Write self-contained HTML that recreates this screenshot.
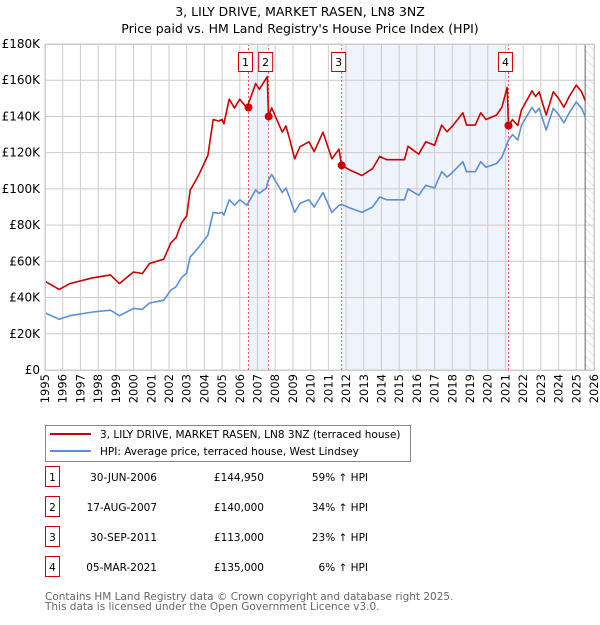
<!DOCTYPE html>
<html><head><meta charset="utf-8"><style>
body{margin:0;background:#fff;font-family:"Liberation Sans","DejaVu Sans",sans-serif;}
svg text{font-family:"DejaVu Sans","Liberation Sans",sans-serif;}
</style></head><body>
<svg id="chart" width="600" height="620" xmlns="http://www.w3.org/2000/svg">
<defs><pattern id="hatch" width="6" height="6" patternUnits="userSpaceOnUse" patternTransform="rotate(-45)"><line x1="0" y1="0" x2="0" y2="6" stroke="#ccc" stroke-width="1"/></pattern></defs>
<text x="300" y="16" text-anchor="middle" font-size="12.5" fill="#000">3, LILY DRIVE, MARKET RASEN, LN8 3NZ</text>
<text x="300" y="33" text-anchor="middle" font-size="12.5" fill="#000">Price paid vs. HM Land Registry's House Price Index (HPI)</text>
<g id="plot"></g>
<g>
<rect x="45.5" y="425.5" width="365" height="36" fill="#fff" stroke="#888"/>
<line x1="50" y1="434" x2="91" y2="434" stroke="#cc0000" stroke-width="2"/>
<text x="100" y="438" font-size="10.5">3, LILY DRIVE, MARKET RASEN, LN8 3NZ (terraced house)</text>
<line x1="50" y1="451" x2="91" y2="451" stroke="#5b8fd6" stroke-width="2"/>
<text x="100" y="455" font-size="10.5">HPI: Average price, terraced house, West Lindsey</text>
</g>
<g id="table" font-size="10.5"></g>
<text x="45" y="600" font-size="10.5" fill="#666">Contains HM Land Registry data © Crown copyright and database right 2025.</text>
<text x="45" y="610" font-size="10.5" fill="#666">This data is licensed under the Open Government Licence v3.0.</text>
</svg>
<script>
const hpiYears=[1995,1995.8,1996.4,1997.7,1998.7,1999.2,2000,2000.5,2000.9,2001.7,2002.1,2002.4,2002.7,2003,2003.2,2003.3,2003.7,2004.2,2004.5,2004.8,2005,2005.1,2005.4,2005.7,2006,2006.4,2006.9,2007.1,2007.5,2007.6,2007.8,2008.1,2008.4,2008.6,2008.8,2009.1,2009.4,2009.9,2010.2,2010.7,2011.2,2011.6,2011.75,2012.2,2012.9,2013.5,2013.9,2014.3,2015.3,2015.5,2016.1,2016.5,2017,2017.4,2017.7,2018,2018.6,2018.8,2019.3,2019.6,2019.9,2020.5,2020.8,2021.1,2021.17,2021.4,2021.7,2021.9,2022.5,2022.7,2022.9,2023.3,2023.7,2024,2024.3,2024.6,2025,2025.3,2025.5];
const hpiValues=[31.5,28,30,32,33,30,34,33.5,37,38.5,44,46,51,53.5,62.5,63.5,68,74.5,87,86.5,87,85.5,94,91,94,91,99.5,97.5,100.5,104.5,108,103,98,100.5,95.5,87,92,94,90,98,87,91,91.5,89.5,87,90,95.5,94,94,100,96.5,102,100.5,109.5,106.5,109,115,109.5,109.5,115,112,114,117.5,125,127,130,127,135,145,142,144.5,132.5,144.5,141,136.5,142,148,144.5,140];
const priceYears=[1995,1995.8,1996.4,1997.7,1998.7,1999.2,2000,2000.5,2000.9,2001.7,2002.1,2002.4,2002.7,2003,2003.2,2003.3,2003.7,2004.2,2004.5,2004.8,2005,2005.1,2005.4,2005.7,2006,2006.4,2006.9,2007.1,2007.55,2007.62,2007.8,2008.1,2008.4,2008.6,2008.8,2009.1,2009.4,2009.9,2010.2,2010.7,2011.2,2011.6,2011.75,2012.2,2012.9,2013.5,2013.9,2014.3,2015.3,2015.5,2016.1,2016.5,2017,2017.4,2017.7,2018,2018.6,2018.8,2019.3,2019.6,2019.9,2020.5,2020.8,2021.1,2021.17,2021.4,2021.7,2021.9,2022.5,2022.7,2022.9,2023.3,2023.7,2024,2024.3,2024.6,2025,2025.3,2025.5];
const priceValues=[49,44.5,47.7,50.9,52.5,47.7,54.1,53.3,58.8,61.2,70,73.1,81.1,85.1,99.4,101,108.1,118.5,138.3,137.5,138.3,136,149.5,144.7,149.5,144.7,158.2,155,162,140,144.7,138,131.3,134.7,128,116.6,123.3,126,120.6,131.3,116.6,121.9,113,110.5,107.4,111.2,117.9,116.1,116.1,123.5,119.2,126,124.1,135.2,131.5,134.6,142,135.2,135.2,142,138.3,140.8,145.1,156,135,138.2,135,143.5,154.1,151,153.6,140.8,153.6,149.9,145.1,151,157.3,153.6,148.8];
const saleLabels=["1","2","3","4"];
const saleYears=[2006.49,2007.63,2011.75,2021.17];
const saleValues=[144.95,140,113,135];
const saleDates=["30-JUN-2006","17-AUG-2007","30-SEP-2011","05-MAR-2021"];
const salePrices=["£144,950","£140,000","£113,000","£135,000"];
const saleHpi=["59% ↑ HPI","34% ↑ HPI","23% ↑ HPI","6% ↑ HPI"];
const yTicks=[0,20,40,60,80,100,120,140,160,180];
const yTickLabels=["£0","£20K","£40K","£60K","£80K","£100K","£120K","£140K","£160K","£180K"];
const xTicks=[1995,1996,1997,1998,1999,2000,2001,2002,2003,2004,2005,2006,2007,2008,2009,2010,2011,2012,2013,2014,2015,2016,2017,2018,2019,2020,2021,2022,2023,2024,2025,2026];

const NS="http://www.w3.org/2000/svg";
const L=45,R=594,T=44,B=370;
const xs=y=>L+(y-1995)/(2026-1995)*(R-L);
const ys=v=>B-v/180*(B-T);
const plot=document.getElementById('plot');
function mk(tag,attrs,parent){const e=document.createElementNS(NS,tag);for(const k in attrs)e.setAttribute(k,attrs[k]);(parent||plot).appendChild(e);return e;}

for(let i=0;i<saleYears.length;i+=2){
 const r=mk('rect',{x:xs(saleYears[i]),y:T,width:xs(saleYears[i+1])-xs(saleYears[i]),height:B-T,fill:'#eef3fc'});
 
 
}
const hx=xs(2025.5);
const hr=mk('rect',{x:hx,y:T,width:R-hx,height:B-T,fill:'url(#hatch)'});


xTicks.forEach((t,i)=>{
 const g=mk('line',{x1:xs(t),x2:xs(t),y1:T,y2:B,stroke:'#ccc','stroke-width':1});
 
 
 const tx=mk('text',{x:0,y:0,'font-size':11.5,'text-anchor':'end',transform:`translate(${xs(t)+4},${B+4}) rotate(-90)`});
 tx.textContent=t;
 
 
});
yTicks.forEach((t,i)=>{
 const g=mk('line',{x1:L,x2:R,y1:ys(t),y2:ys(t),stroke:'#ccc','stroke-width':1});
 
 
 const tx=mk('text',{x:L-5,y:ys(t)+4,'font-size':12,'text-anchor':'end'});
 tx.textContent=yTickLabels[i];
 
 
});
const vl=mk('line',{x1:hx,x2:hx,y1:T,y2:B,stroke:'#666','stroke-width':1});


saleYears.forEach((s,i)=>{
 const l=mk('line',{x1:xs(s),x2:xs(s),y1:T,y2:B,stroke:'#e55','stroke-width':1,'stroke-dasharray':'2,2'});
 
 
});
function path(xsArr,vals,color,name){
 const d=xsArr.map((y,i)=>(i?'L':'M')+xs(y).toFixed(1)+','+ys(vals[i]).toFixed(1)).join('');
 const p=mk('path',{d:d,fill:'none',stroke:color,'stroke-width':1.6,'stroke-linejoin':'round'});
 
 
}
path(hpiYears,hpiValues,'#5b8fd6','hpi-line');
path(priceYears,priceValues,'#cc0000','price-line');
saleYears.forEach((s,i)=>{
 const c=mk('circle',{cx:xs(s),cy:ys(saleValues[i]),r:4,fill:'#cc0000'});
 
 
 const bx=xs(s)-3;
 const r=mk('rect',{x:bx-7,y:52.5,width:14,height:19,fill:'#fff',stroke:'#cc0000'});
 
 
 const t=mk('text',{x:bx,y:66,'font-size':11,'text-anchor':'middle'});
 t.textContent=saleLabels[i];
 
 
});
const ax=mk('rect',{x:L+0.5,y:T+0.5,width:R-L,height:B-T,fill:'none',stroke:'#ccc'});



const tb=document.getElementById('table');
saleLabels.forEach((lab,i)=>{
 const y=483+i*30;
 const r=mk('rect',{x:45.5,y:y-16.5,width:14,height:20,fill:'#fff',stroke:'#cc0000'},tb);
 
 
 const t0=mk('text',{x:52.5,y:y-2,'text-anchor':'middle'},tb);t0.textContent=lab;
 
 
 const t1=mk('text',{x:157,y:y-2,'text-anchor':'end'},tb);t1.textContent=saleDates[i];
 
 
 const t2=mk('text',{x:264,y:y-2,'text-anchor':'end'},tb);t2.textContent=salePrices[i];
 
 
 const t3=mk('text',{x:368,y:y-2,'text-anchor':'end'},tb);t3.textContent=saleHpi[i];
 
 
});
</script>
</body></html>
